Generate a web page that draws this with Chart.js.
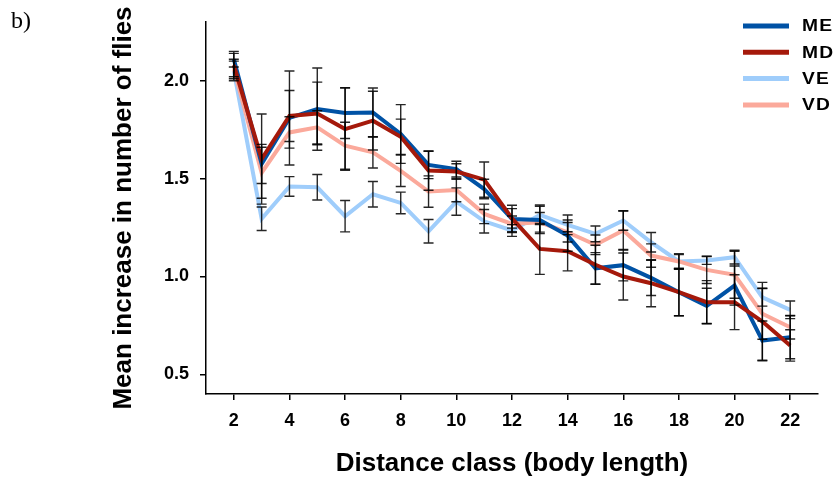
<!DOCTYPE html>
<html>
<head>
<meta charset="utf-8">
<script src="https://cdn.jsdelivr.net/npm/chart.js@4.4.1/dist/chart.umd.min.js"></script>
<style>
    body { margin: 0; background: #fff; }
    #wrap { position: relative; width: 838px; height: 483px; }
    #panel { position: absolute; left: 11px; top: 7px; font: 24px "Liberation Serif", "Times New Roman", serif; color: #000; }
</style>
</head>
<body>
<div id="wrap">
    <canvas id="flyChart" width="838" height="483"></canvas>
    <div id="panel">b)</div>
</div>
<script>
// Distance classes and tick values
const distanceClasses = [2, 3, 4, 5, 6, 7, 8, 9, 10, 11, 12, 13, 14, 15, 16, 17, 18, 19, 20, 21, 22];
const xTicks = [2, 4, 6, 8, 10, 12, 14, 16, 18, 20, 22];
const yTicks = [0.5, 1.0, 1.5, 2.0];

// Mean increase per treatment
const meValues = [2.11, 1.575, 1.81, 1.855, 1.835, 1.838, 1.728, 1.57, 1.549, 1.447, 1.294, 1.289, 1.209, 1.042, 1.058, 0.993, 0.92, 0.85, 0.954, 0.673, 0.69];
const mdValues = [2.08, 1.60, 1.82, 1.833, 1.753, 1.796, 1.714, 1.541, 1.536, 1.495, 1.297, 1.141, 1.129, 1.06, 1.0, 0.966, 0.92, 0.869, 0.869, 0.77, 0.648];
const veValues = [2.05, 1.295, 1.46, 1.456, 1.308, 1.42, 1.376, 1.231, 1.383, 1.282, 1.235, 1.315, 1.264, 1.218, 1.286, 1.175, 1.077, 1.082, 1.099, 0.894, 0.83];
const vdValues = [2.06, 1.53, 1.736, 1.762, 1.668, 1.634, 1.54, 1.434, 1.442, 1.32, 1.269, 1.277, 1.226, 1.162, 1.235, 1.107, 1.077, 1.034, 1.009, 0.81, 0.741];

// Error bar half-widths
const meErrors = [0.04, 0.10, 0.24, 0.21, 0.13, 0.125, 0.15, 0.07, 0.04, 0.05, 0.07, 0.07, 0.08, 0.08, 0.08, 0.09, 0.12, 0.09, 0.10, 0.10, 0.11];
const mdErrors = [0.06, 0.23, 0.13, 0.16, 0.21, 0.15, 0.09, 0.10, 0.04, 0.09, 0.05, 0.13, 0.10, 0.10, 0.12, 0.12, 0.12, 0.11, 0.14, 0.20, 0.08];
const veErrors = [0.05, 0.06, 0.05, 0.065, 0.08, 0.065, 0.055, 0.06, 0.07, 0.06, 0.03, 0.05, 0.05, 0.04, 0.05, 0.05, 0.035, 0.02, 0.035, 0.045, 0.045];
const vdErrors = [0.05, 0.13, 0.08, 0.085, 0.12, 0.08, 0.08, 0.08, 0.06, 0.05, 0.04, 0.05, 0.05, 0.05, 0.10, 0.06, 0.04, 0.07, 0.12, 0.13, 0.06];

const FONT = '"Liberation Sans", Arial, sans-serif';

function toPoints(values) {
    return distanceClasses.map((c, i) => ({ x: c, y: values[i] }));
}

function makeSeries(label, values, errors, color, order) {
    return {
        label: label,
        data: toPoints(values),
        errors: errors,
        borderColor: color,
        backgroundColor: color,
        borderWidth: 4,
        pointRadius: 0,
        tension: 0,
        order: order
    };
}

// Vertical error bars with caps, drawn over the lines
const errorBarPlugin = {
    id: 'errorBars',
    afterDatasetsDraw(chart) {
        const ctx = chart.ctx;
        const xScale = chart.scales.x;
        const yScale = chart.scales.y;
        ctx.save();
        ctx.strokeStyle = 'rgba(0, 0, 0, 0.85)';
        ctx.lineWidth = 1.4;
        chart.data.datasets.forEach(ds => {
            ds.data.forEach((pt, i) => {
                const x = xScale.getPixelForValue(pt.x);
                const top = yScale.getPixelForValue(pt.y + ds.errors[i]);
                const bot = yScale.getPixelForValue(pt.y - ds.errors[i]);
                ctx.beginPath();
                ctx.moveTo(x, top);
                ctx.lineTo(x, bot);
                ctx.moveTo(x - 5, top);
                ctx.lineTo(x + 5, top);
                ctx.moveTo(x - 5, bot);
                ctx.lineTo(x + 5, bot);
                ctx.stroke();
            });
        });
        ctx.restore();
    }
};

// Legend in the top right corner
const legendPlugin = {
    id: 'cornerLegend',
    afterDraw(chart) {
        const ctx = chart.ctx;
        const entries = ['ME', 'MD', 'VE', 'VD'].map(name => chart.data.datasets.find(d => d.label === name));
        ctx.save();
        ctx.font = 'bold 16px ' + FONT;
        ctx.textBaseline = 'middle';
        ctx.fillStyle = '#000';
        ctx.letterSpacing = '1px';
        entries.forEach((ds, i) => {
            const y = 26 + i * 26.3;
            ctx.strokeStyle = ds.borderColor;
            ctx.lineWidth = 5;
            ctx.beginPath();
            ctx.moveTo(743, y);
            ctx.lineTo(789, y);
            ctx.stroke();
            ctx.save();
            ctx.translate(802, y + 1);
            ctx.scale(1.2, 1);
            ctx.fillText(ds.label, 0, 0);
            ctx.restore();
        });
        ctx.restore();
    }
};

const padLeft = 104;

new Chart(document.getElementById('flyChart'), {
    type: 'line',
    data: {
        datasets: [
            makeSeries('ME', meValues, meErrors, '#0052a5', 1),
            makeSeries('MD', mdValues, mdErrors, '#a5190b', 0),
            makeSeries('VE', veValues, veErrors, '#9fcdfb', 3),
            makeSeries('VD', vdValues, vdErrors, '#fba99b', 2)
        ]
    },
    options: {
        responsive: false,
        animation: false,
        layout: { padding: { left: padLeft, top: 22, right: 20, bottom: 0 } },
        plugins: {
            legend: { display: false },
            tooltip: { enabled: false }
        },
        scales: {
            x: {
                type: 'linear',
                min: 1,
                max: 23,
                afterBuildTicks: s => { s.ticks = xTicks.map(v => ({ value: v })); },
                afterFit: s => { s.height = 89; },
                ticks: {
                    color: '#000',
                    padding: 10,
                    font: { family: FONT, size: 18, weight: 'bold' }
                },
                grid: { drawOnChartArea: false, drawTicks: true, tickLength: 6, color: '#000', lineWidth: 1.5 },
                border: { color: '#000', width: 1.5 },
                title: {
                    display: true,
                    text: 'Distance class (body length)',
                    color: '#000',
                    font: { family: FONT, size: 26, weight: 'bold' }
                }
            },
            y: {
                min: 0.4,
                max: 2.3,
                afterBuildTicks: s => { s.ticks = yTicks.map(v => ({ value: v })); },
                afterFit: s => { s.width = 206 - padLeft; },
                ticks: {
                    color: '#000',
                    padding: 11,
                    font: { family: FONT, size: 18, weight: 'bold' },
                    callback: v => v.toFixed(1)
                },
                grid: { drawOnChartArea: false, drawTicks: true, tickLength: 6, color: '#000', lineWidth: 1.5 },
                border: { color: '#000', width: 1.5 },
                title: {
                    display: true,
                    text: 'Mean increase in number of flies',
                    color: '#000',
                    font: { family: FONT, size: 26, weight: 'bold' }
                }
            }
        }
    },
    plugins: [errorBarPlugin, legendPlugin]
});
</script>
</body>
</html>
